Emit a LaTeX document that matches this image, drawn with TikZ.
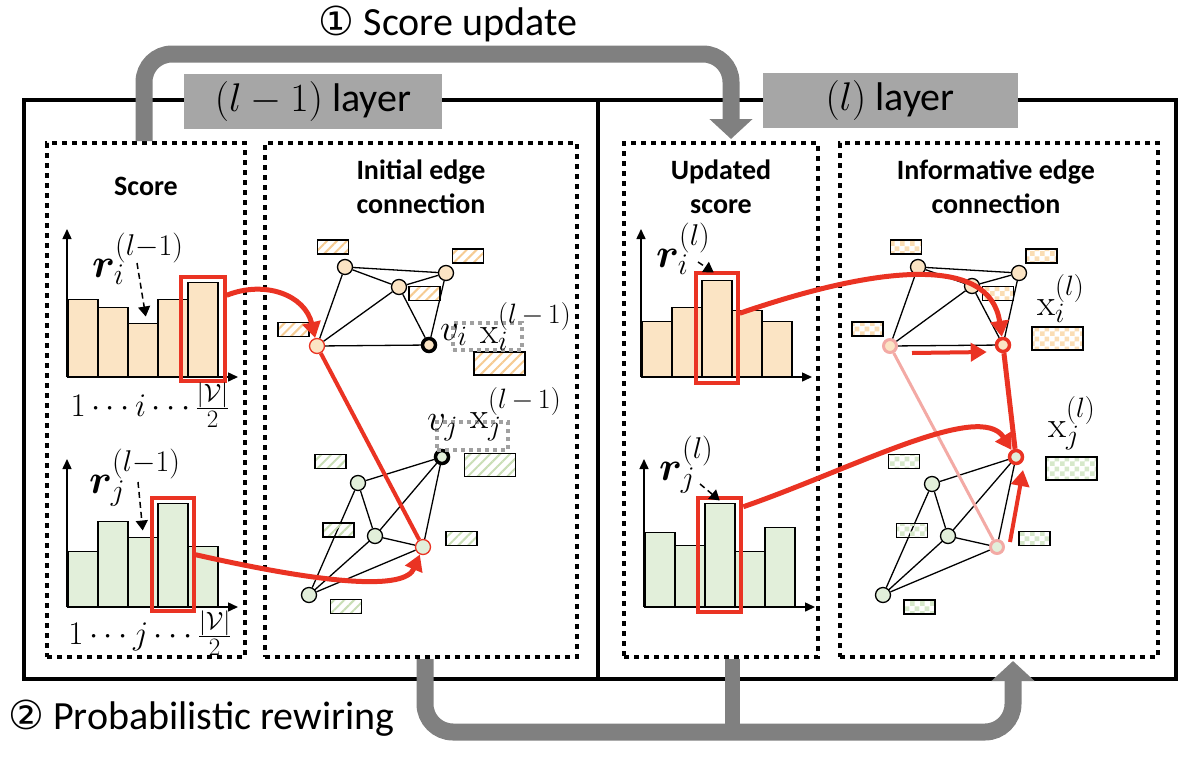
\RequirePackage{fix-cm}
\documentclass[tikz,border=0pt]{standalone}
\usepackage{bm}
\usepackage[no-math]{fontspec}
\setmainfont{Carlito}
\newfontfamily\circfont{DejaVu Sans}
\usepackage{tikz}
\usetikzlibrary{arrows.meta,positioning,patterns,patterns.meta,calc}
\DeclareMathSizes{41}{41}{30}{22}
\DeclareMathSizes{37}{37}{28}{20}
\DeclareMathSizes{33}{33}{25}{18}
\definecolor{peach}{HTML}{FBE4C4}
\definecolor{mint}{HTML}{E2EFDA}
\definecolor{hatchpeach}{HTML}{F6CB92}
\definecolor{hatchmint}{HTML}{C9DEB6}
\definecolor{checkpeach}{HTML}{FADDB4}
\definecolor{checkmint}{HTML}{D6E8CA}
\definecolor{hired}{HTML}{EA3323}
\definecolor{fadedred}{HTML}{F3AAA5}
\definecolor{arrowgray}{HTML}{808080}
\definecolor{taggray}{HTML}{A6A6A6}
\definecolor{dotgray}{HTML}{A0A0A0}
\pgfdeclarepatternformonly{checker}{\pgfpointorigin}{\pgfqpoint{10pt}{10pt}}{\pgfqpoint{10pt}{10pt}}{%
  \pgfpathrectangle{\pgfpointorigin}{\pgfqpoint{5pt}{5pt}}%
  \pgfpathrectangle{\pgfqpoint{5pt}{5pt}}{\pgfqpoint{5pt}{5pt}}%
  \pgfusepath{fill}}
\tikzset{
  frame/.style={line width=4pt},
  dotbox/.style={draw,line width=4pt,dash pattern=on 5pt off 5pt,inner sep=0pt},
  graydot/.style={draw=dotgray,line width=4pt,dash pattern=on 4pt off 4pt,inner sep=0pt},
  tagbox/.style={fill=taggray,minimum height=55,inner sep=0pt,font=\fontsize{40}{44}\selectfont},
  bigtext/.style={font=\fontsize{40}{44}\selectfont,inner sep=0pt},
  title/.style={font=\fontsize{28}{34}\selectfont\bfseries,align=center,inner sep=0pt},
  grayarrow/.style={draw=arrowgray,line width=17pt,rounded corners=28pt,-{Triangle[length=20pt,width=42pt]}},
  grayline/.style={draw=arrowgray,line width=15pt},
  bar/.style={draw,line width=1.5pt,inner sep=0pt,minimum width=30,anchor=south west},
  axis/.style={line width=1.5pt,-{Triangle[length=10pt,width=9pt]}},
  hibox/.style={draw=hired,line width=4pt,inner sep=0pt},
  pointer/.style={line width=1.5pt,dash pattern=on 6pt off 4pt,-{Triangle[length=10pt,width=12pt]}},
  vtx/.style={circle,draw,line width=1.3pt,inner sep=0pt,minimum size=15},
  keyvtx/.style={vtx,line width=3.5pt,minimum size=13},
  edge/.style={line width=1.3pt},
  feat/.style={draw,line width=1.5pt,inner sep=0pt,minimum width=31,minimum height=14},
  bigfeat/.style={feat,minimum width=51,minimum height=23},
  hatchA/.style={pattern={Lines[angle=45,distance=7pt,line width=2pt]},pattern color=hatchpeach},
  hatchB/.style={pattern={Lines[angle=45,distance=7pt,line width=2pt]},pattern color=hatchmint},
  checkA/.style={pattern=checker,pattern color=checkpeach},
  checkB/.style={pattern=checker,pattern color=checkmint},
  rlab/.style={font=\fontsize{41}{44}\selectfont,inner sep=0pt,anchor=base west},
  xlab/.style={font=\fontsize{37}{40}\selectfont,inner sep=0pt,anchor=base west},
  ticks/.style={font=\fontsize{33}{36}\selectfont,inner sep=0pt},
  redarrow/.style={draw=hired,line width=5pt,-{Triangle[length=16pt,width=18pt]}},
  redline/.style={draw=hired,line width=4pt},
  fadeline/.style={draw=fadedred,line width=3pt}
}

\begin{document}
\begin{tikzpicture}[x=1pt,y=-1pt]
\useasboundingbox (0,0) rectangle (1202,766);

% layers
\draw[frame] (24,100) rectangle (1176,679);
\draw[frame] (598,100) -- (598,679);
\node[dotbox,minimum width=198,minimum height=514] (scoreA) at (146,400) {};
\node[dotbox,minimum width=312,minimum height=514] (edgeA) at (421,400) {};
\node[dotbox,minimum width=194,minimum height=514] (scoreB) at (721,400) {};
\node[dotbox,minimum width=318,minimum height=514] (edgeB) at (999,400) {};
\node[tagbox,minimum width=258] (tagA) at (313,101) {$(l-1)$ layer};
\node[tagbox,minimum width=255] (tagB) at (890,100) {$(l)$ layer};

\node[title] at (146,186) {Score};
\node[title] at (421,187) {Initial edge\\connection};
\node[title] at (721,187) {Updated\\score};
\node[title] at (996,187) {Informative edge\\connection};

% steps
\node[bigtext] (stepA) at (448,24) {{\circfont ①} Score update};
\node[bigtext,anchor=west] (stepB) at (8,718) {{\circfont ②} Probabilistic rewiring};
\draw[grayarrow] ([xshift=-2pt]scoreA.north) -- ++(0,-87) -| ([xshift=10pt,yshift=2pt]scoreB.north);
\draw[grayline] ([xshift=11pt]scoreB.south) -- ++(0,73);
\draw[grayarrow] ([xshift=4pt]edgeA.south) -- ++(0,73) -| ([xshift=14pt,yshift=-2pt]edgeB.south);

% scores
\foreach \h [count=\k from 0] in {77,69,53,77,94}
  \node[bar,fill=peach,minimum height=\h] (pa\k) at ({67+30*\k},377) {};
\foreach \h [count=\k from 0] in {55,85,69,103,60}
  \node[bar,fill=mint,minimum height=\h] (pb\k) at ({67+30*\k},607) {};
\foreach \h [count=\k from 0] in {55,69,96,66,55}
  \node[bar,fill=peach,minimum height=\h] (pc\k) at ({641+30*\k},377) {};
\foreach \h [count=\k from 0] in {74,61,103,55,79}
  \node[bar,fill=mint,minimum height=\h] (pd\k) at ({644+30*\k},607) {};
\foreach \p in {pa,pb,pc,pd} {
  \draw[axis] (\p0.south west) -- ++(171,0);
  \draw[axis] (\p0.south west) -- ++(0,-148);
}
\node[hibox,minimum width=44,minimum height=104] (hiA) at (pa4) {};
\node[hibox,minimum width=42,minimum height=113] (hiB) at (pb3) {};
\node[hibox,minimum width=42,minimum height=110] (hiC) at (pc2) {};
\node[hibox,minimum width=43,minimum height=114] (hiD) at (pd2) {};
\node[ticks] at (150,405) {$1\cdots i\cdots\frac{|\mathcal{V}|}{2}$};
\node[ticks] at (150,633) {$1\cdots j\cdots\frac{|\mathcal{V}|}{2}$};

\node[rlab] (riA) at (92,277) {$\bm{r}_i^{(l-1)}$};
\node[rlab] (rjA) at (89,493) {$\bm{r}_j^{(l-1)}$};
\node[rlab] (riB) at (656,267) {$\bm{r}_i^{(l)}$};
\node[rlab] (rjB) at (659,480) {$\bm{r}_j^{(l)}$};
\coordinate (piA) at (137,263);
\coordinate (pjA) at (138,482);
\coordinate (piB) at (698,262);
\coordinate (pjB) at (700,484);
\draw[pointer] (piA) -- ([xshift=3pt,yshift=6pt]pa2.north);
\draw[pointer] (pjA) -- ([yshift=6pt]pb2.north);
\draw[pointer] (piB) -- ([xshift=-3pt,yshift=7pt]pc2.north);
\draw[pointer] (pjB) -- ([yshift=2pt]pd2.north);

% initial edges
\node[vtx,fill=peach] (a1) at (345,267) {};
\node[vtx,fill=peach] (a2) at (446,273) {};
\node[vtx,fill=peach] (a3) at (399,287) {};
\node[vtx,fill=peach,draw=hired] (a4) at (317,346) {};
\node[keyvtx,fill=peach] (vi) at (429,345) {};
\foreach \u/\v in {a1/a2,a1/a3,a1/a4,a3/a2,a3/a4,a3/vi,a2/vi,a4/vi}
  \draw[edge] (\u) -- (\v);
\node[feat,hatchA] (fa1) at (333,247) {};
\node[feat,hatchA] (fa2) at (468,256) {};
\node[feat,hatchA] (fa3) at (424.5,293.5) {};
\node[feat,hatchA] (fa4) at (293.5,329.5) {};
\node[bigfeat,hatchA] (fvi) at (499.5,363.5) {};
\node[graydot,minimum width=69,minimum height=27] (bxi) at (487.5,336.5) {};
\node[xlab] at (440,340) {$v_i$};
\node[xlab] at (480,343) {$\mathrm{x}_i^{(l\,-\,1)}$};

\node[keyvtx,fill=mint] (vj) at (442,457) {};
\node[vtx,fill=mint] (b1) at (358,483) {};
\node[vtx,fill=mint] (b2) at (375,536) {};
\node[vtx,fill=mint,draw=hired] (b3) at (423,547) {};
\node[vtx,fill=mint] (b4) at (309,595) {};
\foreach \u/\v in {vj/b1,vj/b2,vj/b3,b1/b2,b1/b4,b2/b3,b2/b4,b3/b4}
  \draw[edge] (\u) -- (\v);
\node[feat,hatchB] (fb1) at (330.5,461.5) {};
\node[feat,hatchB] (fb2) at (338.5,530) {};
\node[feat,hatchB] (fb3) at (461.5,538.5) {};
\node[feat,hatchB] (fb4) at (346,606.5) {};
\node[bigfeat,hatchB] (fvj) at (490,465) {};
\node[graydot,minimum width=71,minimum height=28] (bxj) at (472.5,436) {};
\node[xlab] at (427,430) {$v_j$};
\node[xlab] at (470,428) {$\mathrm{x}_j^{(l\,-\,1)}$};

% informative edges
\node[vtx,fill=peach] (c1) at (918,267) {};
\node[vtx,fill=peach] (c2) at (1019,273) {};
\node[vtx,fill=peach] (c3) at (972,286) {};
\node[keyvtx,fill=peach,draw=fadedred,line width=3pt] (c4) at (890,346) {};
\node[keyvtx,fill=peach,draw=hired] (ci) at (1003,345) {};
\foreach \u/\v in {c1/c2,c1/c3,c1/c4,c3/c2,c3/c4,c3/ci,c2/ci,c4/ci}
  \draw[edge] (\u) -- (\v);
\node[feat,checkA] (fc1) at (906,247) {};
\node[feat,checkA] (fc2) at (1041.5,256) {};
\node[feat,checkA] (fc3) at (998,293.5) {};
\node[feat,checkA] (fc4) at (867.5,329) {};
\node[bigfeat,checkA] (fci) at (1057.5,338.5) {};
\node[xlab] at (1037,315) {$\mathrm{x}_i^{(l)}$};

\node[keyvtx,fill=mint,draw=hired] (cj) at (1016,457) {};
\node[vtx,fill=mint] (d1) at (932,484) {};
\node[vtx,fill=mint] (d2) at (948,536) {};
\node[keyvtx,fill=mint,draw=fadedred,line width=3pt] (d3) at (997,547) {};
\node[vtx,fill=mint] (d4) at (883,595) {};
\foreach \u/\v in {cj/d1,cj/d2,cj/d3,d1/d2,d1/d4,d2/d3,d2/d4,d3/d4}
  \draw[edge] (\u) -- (\v);
\node[feat,checkB] (fd1) at (904,461.5) {};
\node[feat,checkB] (fd2) at (912,530.5) {};
\node[feat,checkB] (fd3) at (1034.5,538.5) {};
\node[feat,checkB] (fd4) at (919.5,607) {};
\node[bigfeat,checkB] (fcj) at (1071.5,468.5) {};
\node[xlab] at (1048,437) {$\mathrm{x}_j^{(l)}$};

% rewiring
\draw[fadeline] (c4) -- (d3);
\draw[redline] (a4) -- (b3);
\draw[redline,line width=5pt] (ci) -- (cj);
\draw[redarrow] ([yshift=-20pt]hiA.north east) .. controls (265,280) and (305,295) .. (a4);
\draw[redarrow] (hiB.east) .. controls (330,585) and (405,590) .. (b3);
\draw[redarrow] ([yshift=15pt]hiC.east) .. controls (880,265) and (990,255) .. (ci);
\draw[redarrow] ([yshift=-11pt]hiD.north east) .. controls (850,470) and (980,400) .. (cj);
\draw[redarrow,line width=4pt] ([xshift=14pt,yshift=-7pt]c4.east) -- ([xshift=-8pt,yshift=-7pt]ci.west);
\draw[redarrow,line width=4pt] ([xshift=5pt,yshift=5pt]d3.east) -- ([xshift=7pt,yshift=-13pt]cj.center);
\end{tikzpicture}
\end{document}
